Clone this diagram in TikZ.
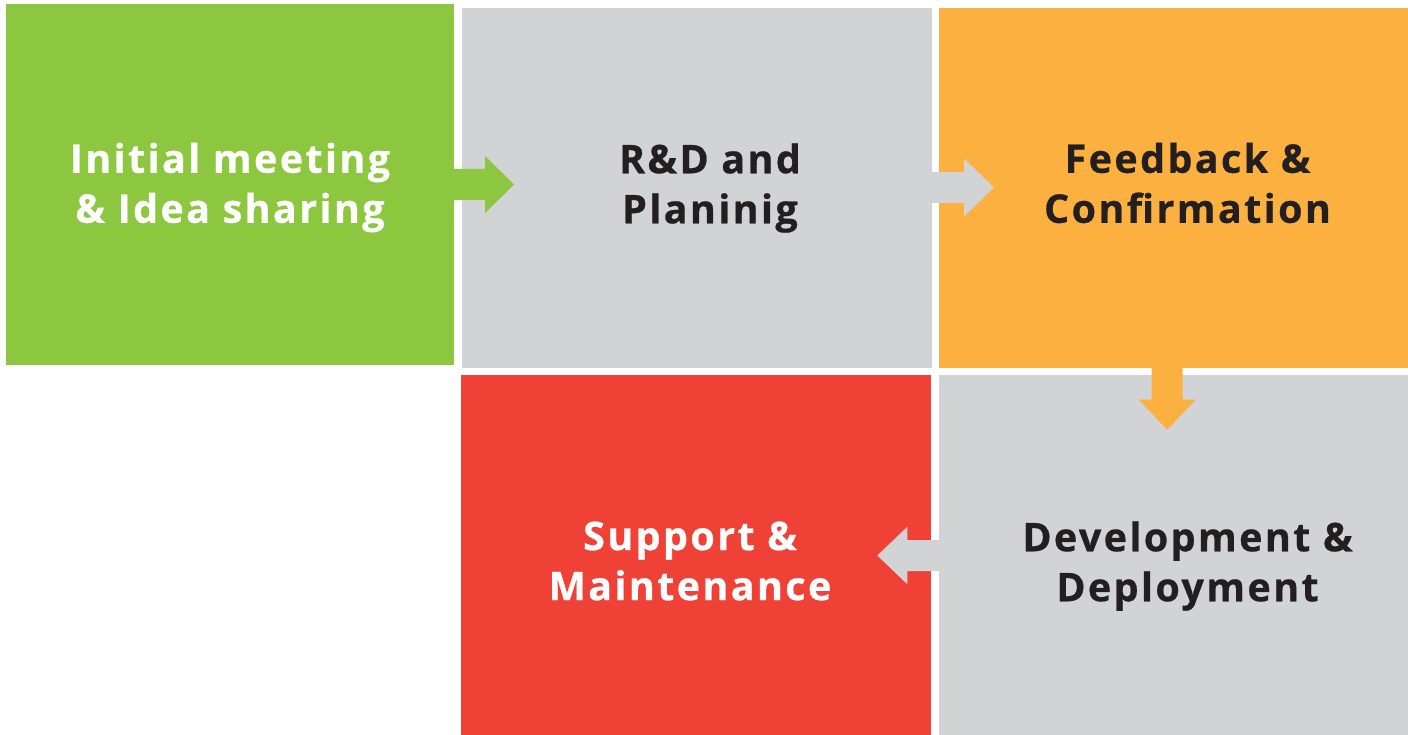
\documentclass[tikz,border=0pt]{standalone}
\usepackage{fontspec}
\setmainfont{Open Sans}[BoldFont={Open Sans Bold}]
\newfontfamily\labelfont{Open Sans Bold}[LetterSpace=6,FakeBold=0.6]
\usetikzlibrary{calc}
\definecolor{cgreen}{HTML}{8DC63F}
\definecolor{cgray}{HTML}{D1D3D4}
\definecolor{corange}{HTML}{FBB040}
\definecolor{cred}{HTML}{EF4136}
\definecolor{cdark}{HTML}{231F20}
\begin{document}
\begin{tikzpicture}[x=1pt,y=-1pt,
  box/.style={draw=none,inner sep=0pt,outer sep=0pt,anchor=north west},
  lbl/.style={inner sep=0pt,align=center,font=\labelfont\fontsize{39.5}{50}\selectfont}]
\useasboundingbox (0,0) rectangle (1408,735);
\fill[white] (0,0) rectangle (1408,735);
% boxes
\node[box,fill=cgreen,minimum width=448pt,minimum height=361pt] (g) at (6,4) {};
\node[box,fill=cgray,minimum width=470pt,minimum height=360pt] (r) at (462,8) {};
\node[box,fill=corange,minimum width=469pt,minimum height=360pt] (f) at (939,8) {};
\node[box,fill=cred,minimum width=470pt,minimum height=360pt] (s) at (461,375) {};
\node[box,fill=cgray,minimum width=469pt,minimum height=360pt] (d) at (939,375) {};
% arrows
\fill[cgreen] ($(g.east)+(-1,-15.5)$) -- ++(32,0) -- ++(0,-13) -- ($(g.east)+(60,0)$)
  -- ($(g.east)+(31,28.5)$) -- ++(0,-13) -- ($(g.east)+(-1,15.5)$) -- cycle;
\coordinate (ra) at ($(r.east)+(0,-0.5)$);
\fill[cgray] ($(ra)+(-1,-15.5)$) -- ++(33,0) -- ++(0,-13.5) -- ($(ra)+(62,0)$)
  -- ($(ra)+(32,29)$) -- ++(0,-13.5) -- ($(ra)+(-1,15.5)$) -- cycle;
\coordinate (fa) at ($(f.south)+(-6.3,0)$);
\fill[corange] ($(fa)+(-15.5,-1)$) -- ++(0,32.6) -- ++(-13,0) -- ($(fa)+(0,61.6)$)
  -- ($(fa)+(28.7,31.6)$) -- ++(-13.2,0) -- ($(fa)+(15.5,-1)$) -- cycle;
\coordinate (da) at ($(d.west)+(0,0.5)$);
\fill[cgray] ($(da)+(1,-15.5)$) -- ++(-32.7,0) -- ++(0,-13.2) -- ($(da)+(-61.7,0)$)
  -- ($(da)+(-31.7,28.7)$) -- ++(0,-13.2) -- ($(da)+(1,15.5)$) -- cycle;
% labels
\node[lbl,text=white] (gt) at ($(g.center)+(0,3)$) {Initial meeting\\\& Idea sharing};
\node[lbl,text=cdark] (rt) at ($(r.center)+(13,0)$) {R\&D and\\Planinig};
\node[lbl,text=cdark] (ft) at ($(f.center)+(14,-5)$) {Feedback \&\\Confirmation};
\node[lbl,text=white] (st) at ($(s.center)+(-6,6)$) {Support \&\\Maintenance};
\node[lbl,text=cdark] (dt) at ($(d.center)+(14,11)$) {Development \&\\Deployment};
\end{tikzpicture}
\end{document}
